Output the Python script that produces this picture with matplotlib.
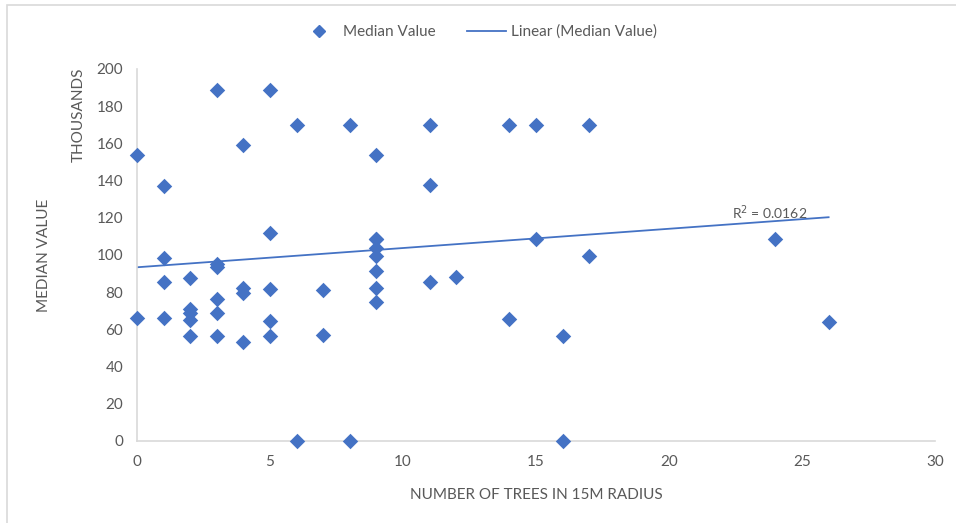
import numpy as np
import matplotlib
matplotlib.use("Agg")
import matplotlib.pyplot as plt
from matplotlib.lines import Line2D
from matplotlib.patches import Rectangle

plt.rcParams['font.family'] = ['Lato', 'DejaVu Sans']

# Number of trees within 15 m radius vs. median value (thousands)
trees = [0, 0,
         1, 1, 1, 1,
         2, 2, 2, 2, 2,
         3, 3, 3, 3, 3, 3,
         4, 4, 4, 4,
         5, 5, 5, 5, 5,
         6, 6,
         7, 7,
         8, 8,
         9, 9, 9, 9, 9, 9, 9, 9,
         11, 11, 11,
         12,
         14, 14,
         15, 15,
         16, 16,
         17, 17,
         24,
         26]
median_value = [154, 66,
                137, 98.5, 85.5, 66,
                87.5, 71, 69, 65, 56.5,
                188.5, 95, 93.5, 76.5, 69, 56.5,
                159, 82.5, 79.5, 53,
                188.5, 112, 81.5, 64.5, 56.5,
                170, 0,
                81, 57,
                170, 0,
                154, 108.5, 104, 99.5, 91.5, 82.5, 74.5, 108.5,
                170, 137.5, 85.5,
                88,
                170, 65.5,
                170, 108.5,
                56.5, 0,
                170, 99.5,
                108.5,
                64]

# linear trendline fitted over the full survey data
trend_intercept = 93.4
trend_slope = 1.035
trend_r2 = 0.0162

x_ticks = [0, 5, 10, 15, 20, 25, 30]
y_ticks = [0, 20, 40, 60, 80, 100, 120, 140, 160, 180, 200]

blue = '#4472C4'
text_gray = '#595959'
axis_gray = '#D9D9D9'

fig = plt.figure(figsize=(9.56, 5.23), dpi=100)
# chart area outline
fig.add_artist(Rectangle((7 / 956, -0.05), 1.2, (523 - 5) / 523 + 0.05,
                         transform=fig.transFigure, fill=False,
                         edgecolor=axis_gray, linewidth=1.2))

ax = fig.add_axes([137 / 956, (523 - 441) / 523, (935 - 137) / 956, (441 - 69) / 523])

x = np.array(trees, dtype=float)
y = np.array(median_value, dtype=float)
ax.scatter(x, y, marker='D', s=62, color=blue, zorder=3, linewidths=0, clip_on=False)

xs = np.array([x.min(), x.max()])
ax.plot(xs, trend_slope * xs + trend_intercept, color=blue, linewidth=1.3, zorder=2)
ax.text(23.8, trend_slope * 23.8 + trend_intercept - 0.5, f'R$^2$ = {trend_r2:.4f}',
        color=text_gray, fontsize=10, ha='center', va='bottom')

ax.set_xlim(0, 30)
ax.set_ylim(0, 200)
ax.set_xticks(x_ticks)
ax.set_yticks(y_ticks)
ax.tick_params(length=0, colors=text_gray, labelsize=11, pad=10)
for side in ['top', 'right']:
    ax.spines[side].set_visible(False)
for side in ['left', 'bottom']:
    ax.spines[side].set_color(axis_gray)
    ax.spines[side].set_linewidth(1.2)

ax.set_xlabel('NUMBER OF TREES IN 15M RADIUS', color=text_gray, fontsize=11, labelpad=14)
fig.text(44 / 956, (523 - 255) / 523, 'MEDIAN VALUE', rotation=90, color=text_gray,
         fontsize=11, ha='center', va='center')
fig.text(79 / 956, (523 - 115) / 523, 'THOUSANDS', rotation=90, color=text_gray,
         fontsize=11, ha='center', va='center')

handles = [Line2D([], [], marker='D', color=blue, linestyle='none', markersize=6),
           Line2D([], [], color=blue, linewidth=1.3)]
fig.legend(handles, ['Median Value', 'Linear (Median Value)'], loc='center',
           bbox_to_anchor=(0.5, (523 - 32) / 523), ncol=2, frameon=False,
           fontsize=11, labelcolor=text_gray, handlelength=2.6, columnspacing=2.0,
           handletextpad=0.3)

fig.savefig('out.png', dpi=100)
